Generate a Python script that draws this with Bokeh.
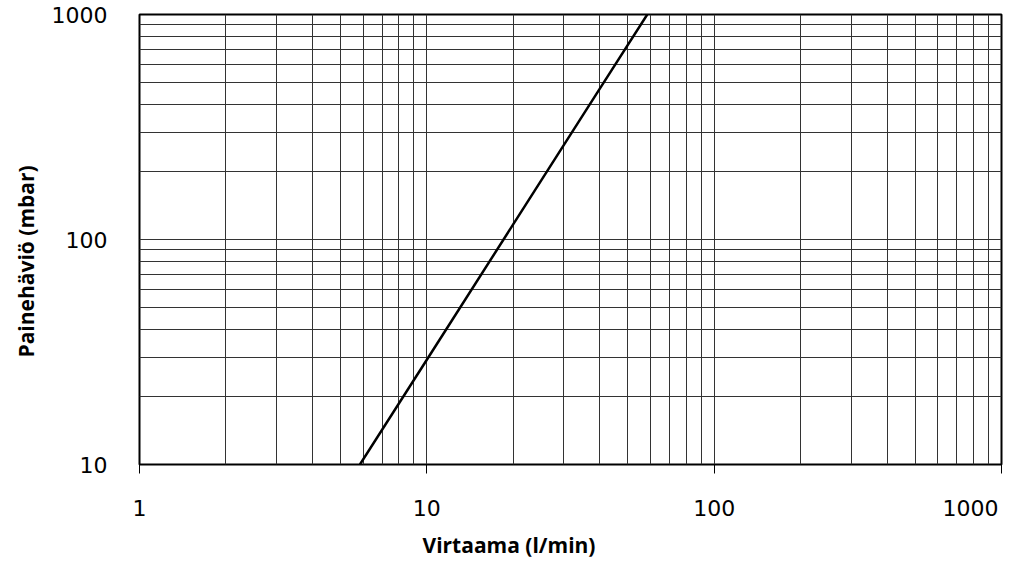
from bokeh.plotting import figure
from bokeh.models import Range1d, FixedTicker, Title
from bokeh.embed import file_html
from bokeh.resources import INLINE

# Data
flow = [5.85, 10, 20, 40, 58.5]          # Virtaama (l/min)
dp = [10, 29.2, 117, 468, 1000]          # Painehäviö (mbar)

x_major = [1, 10, 100, 1000]
x_minor = [2, 3, 4, 5, 6, 7, 8, 9, 20, 30, 40, 50, 60, 70, 80, 90,
           200, 300, 400, 500, 600, 700, 800, 900]
y_major = [10, 100, 1000]
y_minor = [20, 30, 40, 50, 60, 70, 80, 90, 200, 300, 400, 500, 600, 700, 800, 900]

x_tick_labels = ["1", "10", "100", "1000"]
y_tick_labels = ["10", "100", "1000"]

x_label = "Virtaama (l/min)"
y_label = "Painehäviö (mbar)"

TICK_FONT = "DejaVu Sans"
LABEL_FONT = "Open Sans"

p = figure(width=1019, height=563, x_axis_type="log", y_axis_type="log",
           x_range=Range1d(1, 1000), y_range=Range1d(10, 1000),
           output_backend="svg", toolbar_location=None,
           min_border_left=134, min_border_right=18,
           min_border_top=14, min_border_bottom=95)

p.background_fill_color = "white"
p.border_fill_color = "white"
p.outline_line_color = "black"
p.outline_line_width = 2

p.xaxis.ticker = FixedTicker(ticks=x_major, minor_ticks=x_minor)
p.yaxis.ticker = FixedTicker(ticks=y_major, minor_ticks=y_minor)
x_over = dict(zip(x_major, x_tick_labels))
# the last label is nudged left (non-breaking spaces) so it stays inside the page
x_over[x_major[-1]] = x_tick_labels[-1] + "\u00a0\u00a0\u00a0"
p.xaxis.major_label_overrides = x_over
p.yaxis.major_label_overrides = dict(zip(y_major, y_tick_labels))

for ax in (p.xaxis[0], p.yaxis[0]):
    ax.axis_line_color = None
    ax.minor_tick_line_color = None
    ax.major_label_text_font = TICK_FONT
    ax.major_label_text_font_size = "22px"
    ax.major_label_text_color = "black"

p.xaxis.major_tick_out = 9
p.xaxis.major_tick_in = 0
p.xaxis.major_tick_line_color = "black"
p.xaxis.major_label_standoff = 22
p.yaxis.major_tick_out = 0
p.yaxis.major_tick_in = 0
p.yaxis.major_tick_line_color = None
p.yaxis.major_label_standoff = 28

for g in (p.xgrid[0], p.ygrid[0]):
    g.grid_line_color = "#333333"
    g.grid_line_width = 1
    g.grid_line_alpha = 1
    g.minor_grid_line_color = "#333333"
    g.minor_grid_line_width = 1
    g.minor_grid_line_alpha = 1

p.line(flow, dp, line_color="black", line_width=2.5)

p.add_layout(Title(text=x_label, align="left", offset=283, standoff=10,
                   text_font=LABEL_FONT, text_font_size="21px", text_font_style="bold",
                   text_color="black"), "below")
p.add_layout(Title(text=y_label, align="left", offset=107, standoff=18,
                   text_font=LABEL_FONT, text_font_size="21px", text_font_style="bold",
                   text_color="black"), "left")

open("out.html", "w").write(file_html(p, INLINE))
